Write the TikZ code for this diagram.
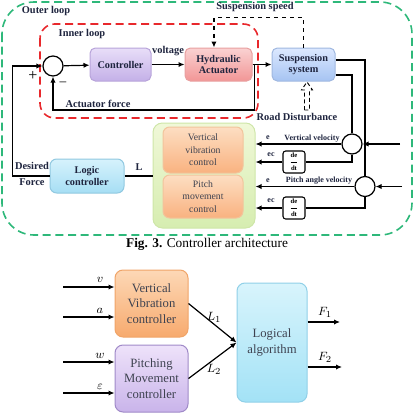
\documentclass[tikz,border=0pt]{standalone}
\usepackage{fontspec}
\setmainfont{Liberation Serif}
\usetikzlibrary{arrows.meta}

\definecolor{outergreen}{RGB}{46,184,122}
\definecolor{innerred}{RGB}{232,40,44}
\definecolor{boxtext}{RGB}{30,36,62}
\definecolor{softtext}{RGB}{62,66,80}

\tikzset{every picture/.style={line width=0.75pt}}
\tikzset{
  wire/.style={line width=0.9pt},
  arr/.style={wire,-{Latex[length=4.5pt,width=4pt]}},
  blk/.style={rectangle,draw,rounded corners=4pt,align=center,inner sep=1pt,
    font=\fontsize{7.7}{8.4}\selectfont\bfseries,text=boxtext,minimum height=24.75pt},
  lbl/.style={inner sep=0.75pt,font=\fontsize{7.8}{8.6}\selectfont\bfseries,text=boxtext},
  tinylbl/.style={inner sep=0.5pt,font=\fontsize{6}{7}\selectfont\bfseries,text=boxtext},
  sumc/.style={circle,draw,fill=white,line width=0.9pt,minimum size=15pt,inner sep=0pt},
  ddt/.style={rectangle,draw,rounded corners=2pt,line width=0.8pt,minimum size=16.5pt,inner sep=0pt,
    font=\fontsize{5}{5}\selectfont},
  softbox/.style={rectangle,rounded corners=5pt,align=center,inner sep=1pt,
    font=\fontsize{7.3}{9.4}\selectfont,text=softtext,minimum width=60pt},
  bigbox/.style={rectangle,draw,rounded corners=6pt,align=center,inner sep=1pt,
    font=\fontsize{9.5}{11.6}\selectfont,text=softtext},
  mlbl/.style={inner sep=0.75pt,font=\fontsize{9.5}{11}\selectfont},
}

\begin{document}
\begin{tikzpicture}[x=0.75pt,y=0.75pt,yscale=-1,xscale=1]
\useasboundingbox (0,0) rectangle (415,418);

%Rounded Rect [outer loop]
\draw [outergreen,line width=1.2pt,dash pattern=on 6pt off 3.5pt,rounded corners=24pt] (2,2) rectangle (412,235);
%Rounded Rect [inner loop]
\draw [innerred,line width=1.2pt,dash pattern=on 6pt off 3.5pt,rounded corners=11pt] (40,24) rectangle (258,118);

% Blocks
\node [sumc] (sum) at (53,66) {};
\node [blk,minimum width=45.75pt,top color={rgb,255:red,232;green,222;blue,248},bottom color={rgb,255:red,196;green,176;blue,232},draw={rgb,255:red,184;green,164;blue,218}] (ctrl) at (120.5,64.5) {Controller};
\node [blk,minimum width=50.25pt,top color={rgb,255:red,250;green,210;blue,210},bottom color={rgb,255:red,242;green,150;blue,150},draw={rgb,255:red,232;green,160;blue,160}] (hyd) at (218.5,64.5) {Hydraulic\\Actuator};
\node [blk,minimum width=47.25pt,top color={rgb,255:red,220;green,232;blue,255},bottom color={rgb,255:red,166;green,196;blue,242},draw={rgb,255:red,160;green,184;blue,224}] (susp) at (303.5,64.5) {Suspension\\system};
\node [blk,minimum width=55.5pt,minimum height=25.5pt,rounded corners=5pt,top color={rgb,255:red,214;green,242;blue,252},bottom color={rgb,255:red,166;green,222;blue,244},draw={rgb,255:red,144;green,200;blue,224}] (logic) at (87,176) {Logic\\controller};
\node [rectangle,rounded corners=7pt,minimum width=76.5pt,minimum height=78.75pt,top color={rgb,255:red,240;green,248;blue,216},bottom color={rgb,255:red,214;green,237;blue,176},draw={rgb,255:red,206;green,230;blue,168}] (grp) at (204,175.5) {};
\node [softbox,minimum height=34.5pt,top color={rgb,255:red,253;green,222;blue,194},bottom color={rgb,255:red,249;green,178;blue,128},draw={rgb,255:red,242;green,196;blue,156}] (vvc) at (203,150) {Vertical\\vibration\\control};
\node [softbox,minimum height=32.25pt,top color={rgb,255:red,253;green,222;blue,194},bottom color={rgb,255:red,249;green,178;blue,128},draw={rgb,255:red,242;green,196;blue,156}] (pmc) at (203,196.5) {Pitch\\movement\\control};
\node [sumc] (cv) at (352,144) {};
\node [sumc] (cp) at (365,186.5) {};
\node [ddt] (d1) at (294,162) {$\displaystyle\frac{\textbf{de}}{\textbf{dt}}$};
\node [ddt] (d2) at (294,208) {$\displaystyle\frac{\textbf{de}}{\textbf{dt}}$};
\coordinate (vin) at (400,144);
\coordinate (pin) at (402,186.5);

%Hollow Arrow [road disturbance]
\draw [densely dashed,line width=0.7pt,fill=white] (304.5,110) -- (304.5,90) -- (301.5,90) -- (307,82) -- (312.5,90) -- (309.5,90) -- (309.5,110) -- cycle;

%Straight Lines
\draw [arr] (sum) -- (ctrl);
\draw [arr] (ctrl) -- (hyd);
\draw [arr] (hyd) -- (susp);
\draw [arr] (hyd.east) -- ++(2,0) |- (sum.south |- 0,110) -- (sum.south);
\draw [wire,dashed,-{Latex[length=4.5pt,width=4pt]}] (susp.north) -- ++(0,-30) -| ([xshift=-3.4pt]hyd.north);
\draw [arr] (logic.west) -- ++(-37,0) |- (sum.west);
\draw [wire] (logic.east) -- (logic.east -| grp.west);
\draw [wire] (susp.east |- 0,60) -| (cp.north);
\draw [wire] (susp.east |- 0,75) -| (cv.north);
\draw [arr] (vin) -- (cv.east);
\draw [arr] (pin) -- (cp.east);
\draw [arr] (cv.west) -- (grp.east |- cv.west);
\draw [wire] (cv.south) |- (d1.east);
\draw [arr] (d1.west) -- (grp.east |- d1.west);
\draw [arr] (cp.west) -- (grp.east |- cp.west);
\draw [wire] (cp.south) |- (d2.east);
\draw [arr] (d2.west) -- (grp.east |- d2.west);

% Text Node
\node [lbl] (outerlbl) at (46,11) {Outer loop};
\node [lbl] (innerlbl) at (82,34) {Inner loop};
\node [lbl] (vlt) at (168,51) {voltage};
\node [lbl] (actf) at (98,104) {Actuator force};
\node [lbl] (sspeed) at (255,7) {Suspension speed};
\node [lbl] (roadlbl) at (297,117) {Road Disturbance};
\node [inner sep=0pt,font=\fontsize{12}{12}\selectfont] (plus) at (33,76) {+};
\node [inner sep=0pt,font=\fontsize{10}{10}\selectfont] (minus) at (63,84) {--};
\node [lbl,align=center,font=\fontsize{7.8}{11.5}\selectfont\bfseries] (desired) at (32,174) {Desired\\Force};
\node [lbl] (Llbl) at (139,167) {L};
\node [tinylbl] (e1) at (268,138) {e};
\node [tinylbl] (ec1) at (271,155) {ec};
\node [tinylbl] (vvel) at (312,139) {Vertical velocity};
\node [tinylbl] (e2) at (268,181) {e};
\node [tinylbl] (ec2) at (271,201) {ec};
\node [tinylbl] (pvel) at (319,181) {Pitch angle velocity};
\node [inner sep=0pt,font=\fontsize{10}{11}\selectfont] (cap) at (207,244) {\textbf{Fig. 3.} Controller architecture};

% Lower diagram
\node [bigbox,minimum width=54.75pt,minimum height=50.25pt,top color={rgb,255:red,253;green,216;blue,182},bottom color={rgb,255:red,247;green,170;blue,110},draw={rgb,255:red,240;green,164;blue,104}] (vv) at (151.5,303.5) {Vertical\\Vibration\\controller};
\node [bigbox,minimum width=54.75pt,minimum height=50.25pt,top color={rgb,255:red,238;green,226;blue,250},bottom color={rgb,255:red,201;green,180;blue,234},draw={rgb,255:red,160;green,138;blue,200}] (pm) at (151.5,378.5) {Pitching\\Movement\\controller};
\node [bigbox,minimum width=52.5pt,minimum height=89.25pt,top color={rgb,255:red,216;green,244;blue,252},bottom color={rgb,255:red,163;green,226;blue,246},draw={rgb,255:red,144;green,208;blue,232}] (la) at (272,342.5) {Logical\\algorithm};
\coordinate (vsrc) at (63,287);
\coordinate (asrc) at (63,317);
\coordinate (wsrc) at (63,362);
\coordinate (esrc) at (63,393);
\coordinate (f1end) at (340,322);
\coordinate (f2end) at (342,367);

\draw [arr] (vsrc) -- (vv.west |- vsrc);
\draw [arr] (asrc) -- (vv.west |- asrc);
\draw [arr] (wsrc) -- (pm.west |- wsrc);
\draw [arr] (esrc) -- (pm.west |- esrc);
\draw [arr] (vv.east) -- (la.west);
\draw [arr] (pm.east) -- (la.west);
\draw [arr] (la.east |- f1end) -- (f1end);
\draw [arr] (la.east |- f2end) -- (f2end);

% Text Node
\node [mlbl] (vlbl) at (100,280) {$v$};
\node [mlbl] (albl) at (100,311) {$a$};
\node [mlbl] (wlbl) at (100,356) {$w$};
\node [mlbl] (elbl) at (100,387) {$\varepsilon$};
\node [mlbl] (l1lbl) at (214,317) {$L_1$};
\node [mlbl] (l2lbl) at (214,369) {$L_2$};
\node [mlbl] (f1lbl) at (325,312) {$F_1$};
\node [mlbl] (f2lbl) at (325,357) {$F_2$};

\end{tikzpicture}
\end{document}
